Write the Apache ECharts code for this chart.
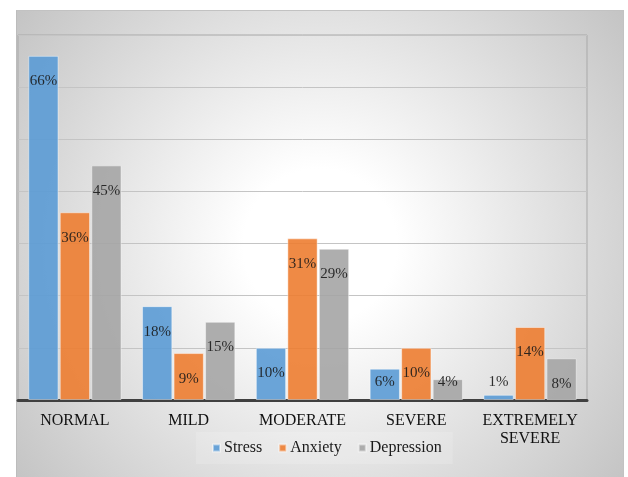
<!DOCTYPE html>
<html>
<head>
<meta charset="utf-8">
<script src="https://cdn.jsdelivr.net/npm/echarts@6/dist/echarts.min.js"></script>
<style>
  html, body { margin: 0; padding: 0; background: #ffffff; }
  #bg {
    position: absolute; left: 16px; top: 10px; width: 608px; height: 470px;
    box-sizing: border-box;
    border-left: 1px solid #bcbcbc; border-top: 1px solid #c2c2c2; border-right: 1px solid #c2c2c2;
    background: radial-gradient(circle farthest-corner at 50% 50%, #ffffff 0%, #ffffff 20%, #c4c4c4 100%);
  }
  #main { position: absolute; left: 0; top: 0; width: 628px; height: 477px; }
</style>
</head>
<body>
<div id="bg"></div>
<div id="main"></div>
<script>
const categories = ['NORMAL', 'MILD', 'MODERATE', 'SEVERE', 'EXTREMELY\nSEVERE'];
const seriesNames = ['Stress', 'Anxiety', 'Depression'];
const stress = [66, 18, 10, 6, 1];
const anxiety = [36, 9, 31, 10, 14];
const depression = [45, 15, 29, 4, 8];
const colors = ['#5B9BD5', '#ED7D31', '#A5A5A5'];

const chart = echarts.init(document.getElementById('main'), null, { renderer: 'canvas' });
const serif = '"Liberation Serif", "Times New Roman", "DejaVu Serif", serif';

function makeData(values) {
  return values.map(function (v) {
    if (v < 8) {
      return { value: v, label: { position: 'insideBottom', distance: 10 } };
    }
    return v;
  });
}

const allValues = [stress, anxiety, depression];
const series = seriesNames.map(function (name, i) {
  return {
    name: name,
    type: 'bar',
    data: makeData(allValues[i]),
    barGap: '4%',
    barCategoryGap: '18%',
    itemStyle: {
      color: colors[i],
      opacity: 0.9,
      borderColor: 'rgba(255,255,255,0.5)',
      borderWidth: 1
    },
    label: {
      show: true,
      position: 'insideTop',
      distance: 18,
      formatter: '{c}%',
      fontFamily: serif,
      fontSize: 15,
      color: '#1a1a1a'
    },
    emphasis: { disabled: true }
  };
});

chart.setOption({
  backgroundColor: 'transparent',
  animation: false,
  color: colors,
  grid: {
    left: 18, right: 41, top: 35, bottom: 77,
    show: true, borderColor: '#a9a9a9', borderWidth: 1, backgroundColor: 'transparent'
  },
  legend: {
    data: seriesNames,
    left: 196, top: 432,
    padding: [8, 11, 8, 16],
    backgroundColor: 'rgba(255,255,255,0.15)',
    icon: 'rect',
    itemWidth: 7, itemHeight: 7,
    itemGap: 16,
    textStyle: { fontFamily: serif, fontSize: 16, color: '#1a1a1a', padding: [0, 0, 0, -1] }
  },
  xAxis: {
    type: 'category',
    data: categories,
    axisLine: { show: true, lineStyle: { color: '#404040', width: 3 } },
    axisTick: { show: false },
    axisLabel: {
      interval: 0, margin: 12,
      fontFamily: serif, fontSize: 16, lineHeight: 18, color: '#111111'
    },
    splitLine: { show: false }
  },
  yAxis: {
    type: 'value',
    min: 0, max: 70, interval: 10,
    axisLine: { show: false },
    axisTick: { show: false },
    axisLabel: { show: false },
    splitLine: { show: true, lineStyle: { color: '#c4c4c4', width: 1 } }
  },
  series: series
});
</script>
</body>
</html>
